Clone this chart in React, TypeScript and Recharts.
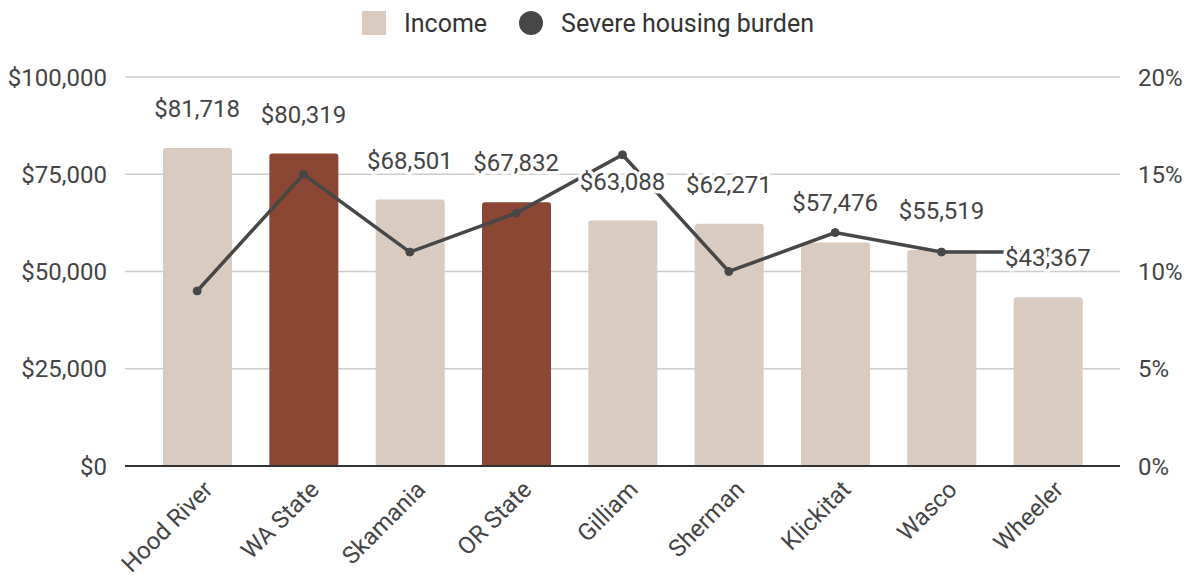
import { ComposedChart, Bar, Line, XAxis, YAxis, CartesianGrid, Legend, LabelList, Cell } from 'recharts';

const categories = ['Hood River', 'WA State', 'Skamania', 'OR State', 'Gilliam', 'Sherman', 'Klickitat', 'Wasco', 'Wheeler'];
const income = [81718, 80319, 68501, 67832, 63088, 62271, 57476, 55519, 43367];
const severeBurden = [9, 15, 11, 13, 16, 10, 12, 11, 11];
const stateRows = ['WA State', 'OR State'];
const incomeTicks = [0, 25000, 50000, 75000, 100000];
const burdenTicks = [0, 5, 10, 15, 20];

const data = categories.map((name, i) => ({ name, income: income[i], burden: severeBurden[i] }));

const LIGHT = '#d9cbc0';
const DARK = '#8b4733';
const LINE = '#474747';
const TEXT = '#444444';
const FONT = 'Roboto, sans-serif';

const money = (v: number) => '$' + v.toLocaleString('en-US');

const IncomeLabel = (props: any) => {
    const { x, y, value } = props;
    return (
        <text
            x={x}
            y={y - 31}
            textAnchor="middle"
            fill={TEXT}
            fontSize={24}
            fontFamily={FONT}
            stroke="#fff"
            strokeWidth={7}
            strokeLinejoin="round"
            style={{ paintOrder: 'stroke' }}
        >
            {money(value)}
        </text>
    );
};

const CategoryTick = (props: any) => {
    const { x, y, payload } = props;
    return (
        <text
            x={x}
            y={y}
            dx={0}
            dy={24}
            textAnchor="end"
            fill={TEXT}
            fontSize={24}
            fontFamily={FONT}
            transform={`rotate(-45, ${x}, ${y})`}
        >
            {payload.value}
        </text>
    );
};

const TopLegend = () => (
    <div style={{ display: 'flex', justifyContent: 'center', alignItems: 'center', gap: 18, fontFamily: FONT, fontSize: 25, color: '#333', height: 44, paddingRight: 10 }}>
        <span style={{ width: 24, height: 24, background: LIGHT, display: 'inline-block' }} />
        <span style={{ marginRight: 14 }}>Income</span>
        <span style={{ width: 24, height: 24, borderRadius: 12, background: LINE, display: 'inline-block' }} />
        <span>Severe housing burden</span>
    </div>
);

export default function App() {
    return (
        <div style={{ position: 'absolute', left: 0, top: 0, width: 1186, height: 582, background: '#fff' }}>
            <ComposedChart width={1186} height={582} data={data} margin={{ top: 33, right: 0, bottom: 0, left: 0 }}>
                <CartesianGrid vertical={false} stroke="#cccccc" strokeWidth={1.5} yAxisId="left" />
                <Legend verticalAlign="top" content={<TopLegend />} wrapperStyle={{ top: 1 }} />
                <XAxis
                    dataKey="name"
                    tick={<CategoryTick />}
                    tickLine={false}
                    axisLine={{ stroke: '#333', strokeWidth: 2 }}
                    interval={0}
                    height={116}
                    padding={{ left: 19, right: 19 }}
                />
                <YAxis
                    yAxisId="left"
                    width={125}
                    domain={[0, 100000]}
                    ticks={incomeTicks}
                    tickFormatter={money}
                    axisLine={false}
                    tickLine={false}
                    tick={{ fill: TEXT, fontSize: 24, fontFamily: FONT }}
                    tickMargin={12}
                />
                <YAxis
                    yAxisId="right"
                    orientation="right"
                    width={66}
                    domain={[0, 20]}
                    ticks={burdenTicks}
                    tickFormatter={(v: number) => `${v}%`}
                    axisLine={false}
                    tickLine={false}
                    tick={{ fill: TEXT, fontSize: 24, fontFamily: FONT, textAnchor: 'start' }}
                    tickMargin={12}
                />
                <Bar yAxisId="left" dataKey="income" barSize={69} radius={[3, 3, 0, 0]} isAnimationActive={false}>
                    {data.map(d => (
                        <Cell key={d.name} fill={stateRows.includes(d.name) ? DARK : LIGHT} />
                    ))}
                </Bar>
                <Line
                    yAxisId="right"
                    dataKey="burden"
                    type="linear"
                    stroke={LINE}
                    strokeWidth={3.5}
                    dot={{ r: 4, fill: LINE, stroke: LINE, strokeWidth: 1 }}
                    activeDot={false}
                    isAnimationActive={false}
                />
                <Line
                    yAxisId="left"
                    dataKey="income"
                    stroke="none"
                    dot={false}
                    activeDot={false}
                    legendType="none"
                    isAnimationActive={false}
                >
                    <LabelList dataKey="income" content={<IncomeLabel />} />
                </Line>
            </ComposedChart>
        </div>
    );
}
